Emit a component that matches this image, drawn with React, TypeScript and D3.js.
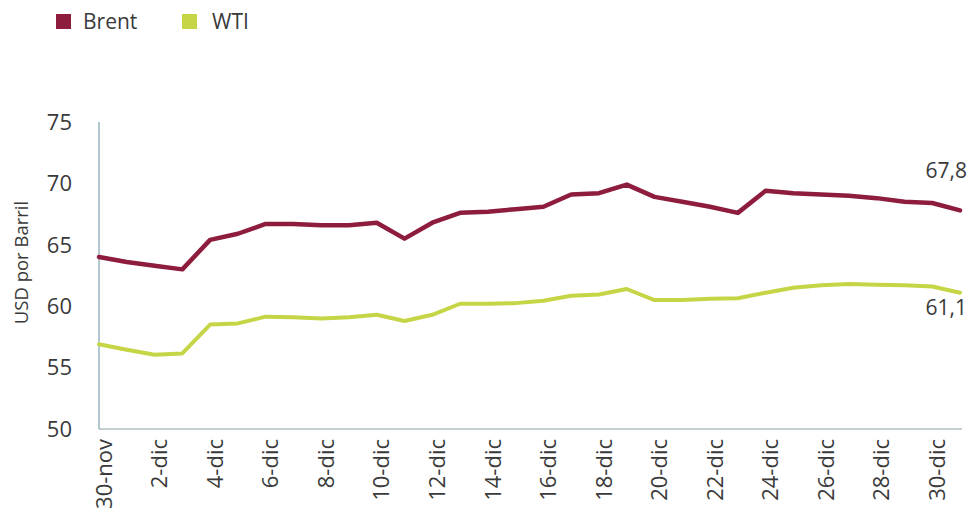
import React, { useEffect, useRef } from "react";
import * as d3 from "d3";

const dates = [
  "30-nov", "1-dic", "2-dic", "3-dic", "4-dic", "5-dic", "6-dic", "7-dic",
  "8-dic", "9-dic", "10-dic", "11-dic", "12-dic", "13-dic", "14-dic", "15-dic",
  "16-dic", "17-dic", "18-dic", "19-dic", "20-dic", "21-dic", "22-dic", "23-dic",
  "24-dic", "25-dic", "26-dic", "27-dic", "28-dic", "29-dic", "30-dic", "31-dic",
];

const brent = [
  64.0, 63.6, 63.3, 63.0, 65.4, 65.9, 66.7, 66.7,
  66.6, 66.6, 66.8, 65.5, 66.8, 67.6, 67.7, 67.9,
  68.1, 69.1, 69.2, 69.9, 68.9, 68.5, 68.1, 67.6,
  69.4, 69.2, 69.1, 69.0, 68.8, 68.5, 68.4, 67.8,
];

const wti = [
  56.9, 56.45, 56.05, 56.15, 58.5, 58.6, 59.15, 59.1,
  59.0, 59.1, 59.3, 58.8, 59.3, 60.2, 60.2, 60.25,
  60.45, 60.85, 60.95, 61.4, 60.5, 60.5, 60.6, 60.65,
  61.1, 61.5, 61.7, 61.8, 61.75, 61.7, 61.6, 61.1,
];

const seriesNames = ["Brent", "WTI"];
const endLabels = ["67,8", "61,1"];
const yTicks = [50, 55, 60, 65, 70, 75];
const yTitle = "USD por Barril";

const COLORS = ["#8d1c3d", "#c6d546"];
const FONT = "'Open Sans', 'Noto Sans', sans-serif";
const TEXT = "#3a3a3a";

export default function App() {
  const ref = useRef<SVGSVGElement>(null);

  useEffect(() => {
    const svg = d3.select(ref.current);
    svg.selectAll("*").remove();

    const x = d3.scalePoint<string>().domain(dates).range([99, 960]);
    const y = d3.scaleLinear().domain([50, 75]).range([429, 122]);

    svg.append("rect").attr("width", 970).attr("height", 512).attr("fill", "#ffffff");

    // Legend
    const legendX = [56, 182];
    seriesNames.forEach((name, i) => {
      const g = svg.append("g").attr("transform", `translate(${legendX[i]},0)`);
      g.append("rect").attr("x", 0).attr("y", 14).attr("width", 15).attr("height", 15).attr("fill", COLORS[i]);
      g.append("text")
        .attr("x", i === 0 ? 27 : 30)
        .attr("y", 29)
        .attr("font-family", FONT)
        .attr("font-size", 21)
        .attr("fill", TEXT)
        .text(name);
    });

    // Y axis line
    svg.append("line")
      .attr("x1", 99).attr("x2", 99)
      .attr("y1", y(75)).attr("y2", y(50))
      .attr("stroke", "#7ea3ad").attr("stroke-width", 1.2);
    // X axis line
    svg.append("line")
      .attr("x1", 99).attr("x2", 962)
      .attr("y1", y(50)).attr("y2", y(50))
      .attr("stroke", "#8aa0a6").attr("stroke-width", 1.2);

    // Y tick labels
    svg.append("g").selectAll("text").data(yTicks).join("text")
      .attr("x", 72)
      .attr("y", (d) => y(d))
      .attr("dy", "0.35em")
      .attr("text-anchor", "end")
      .attr("font-family", FONT)
      .attr("font-size", 22)
      .attr("fill", TEXT)
      .text((d) => String(d));

    // Y title
    svg.append("text")
      .attr("transform", `translate(22,${(y(75) + y(50)) / 2 - 13}) rotate(-90)`)
      .attr("dy", "0.35em")
      .attr("text-anchor", "middle")
      .attr("font-family", FONT)
      .attr("font-size", 18.5)
      .attr("fill", TEXT)
      .text(yTitle);

    // X tick labels (every other day)
    const xTicks = dates.filter((_, i) => i % 2 === 0);
    svg.append("g").selectAll("text").data(xTicks).join("text")
      .attr("transform", (d) => `translate(${(x(d) as number) + 5},439) rotate(-90)`)
      .attr("dy", "0.35em")
      .attr("text-anchor", "end")
      .attr("font-family", FONT)
      .attr("font-size", 22)
      .attr("fill", TEXT)
      .text((d) => d);

    // Lines
    const series = [brent, wti];
    const line = d3.line<number>()
      .x((_, i) => x(dates[i]) as number)
      .y((d) => y(d));
    series.forEach((s, i) => {
      svg.append("path")
        .datum(s)
        .attr("d", line)
        .attr("fill", "none")
        .attr("stroke", COLORS[i])
        .attr("stroke-width", i === 0 ? 4.5 : 4)
        .attr("stroke-linejoin", "round")
        .attr("stroke-linecap", "round");
    });

    // End labels
    const last = dates[dates.length - 1];
    const offsets = [-40, 15];
    series.forEach((s, i) => {
      svg.append("text")
        .attr("x", (x(last) as number) + 7)
        .attr("y", y(s[s.length - 1]) + offsets[i])
        .attr("dy", "0.35em")
        .attr("text-anchor", "end")
        .attr("font-family", FONT)
        .attr("font-size", 21)
        .attr("fill", TEXT)
        .text(endLabels[i]);
    });
  }, []);

  return (
    <div style={{ position: "absolute", left: 0, top: 0, width: 970, height: 512 }}>
      <svg ref={ref} width={970} height={512} style={{ display: "block" }} />
    </div>
  );
}
